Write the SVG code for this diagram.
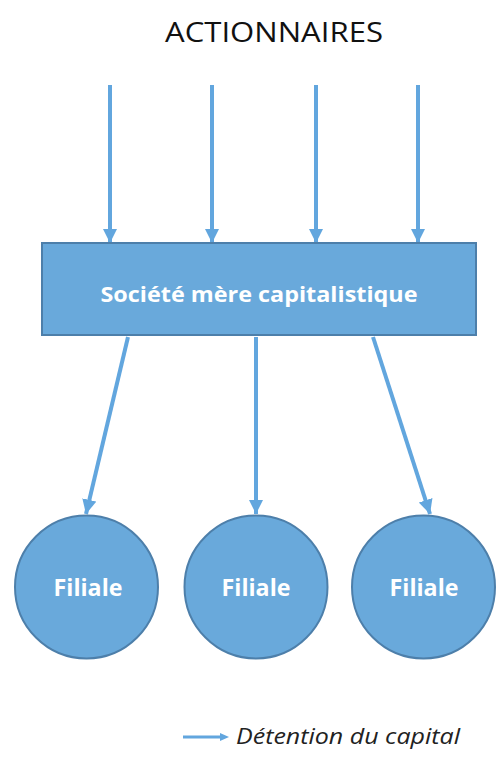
<svg xmlns="http://www.w3.org/2000/svg" width="500" height="758" viewBox="0 0 500 758">
<style>
.node{fill:#69a9db;stroke:#4d7faa;stroke-width:2}
.lbl{fill:#fff;font-family:"Open Sans","Liberation Sans",sans-serif;font-weight:bold;text-anchor:middle}
.conn{stroke:#62a6de;stroke-width:4;fill:none;marker-end:url(#ah)}
</style>
<defs>
<marker id="ah" viewBox="0 0 10 10" refX="10" refY="5" markerWidth="3.6" markerHeight="3.6" orient="auto" markerUnits="strokeWidth">
<path d="M0,0 L10,5 L0,10 z" fill="#62a6de"/>
</marker>
</defs>
<text x="274" y="42" font-family="'Open Sans','Liberation Sans',sans-serif" font-size="28" fill="#111" text-anchor="middle" textLength="218" lengthAdjust="spacingAndGlyphs">ACTIONNAIRES</text>
<g id="connectors">
<line class="conn" x1="110" y1="85" x2="110" y2="243"/>
<line class="conn" x1="212" y1="85" x2="212" y2="243"/>
<line class="conn" x1="316" y1="85" x2="316" y2="243"/>
<line class="conn" x1="418" y1="85" x2="418" y2="243"/>
<line class="conn" x1="128" y1="337" x2="86" y2="514"/>
<line class="conn" x1="256" y1="337" x2="256" y2="514"/>
<line class="conn" x1="373" y1="337" x2="430" y2="514"/>
</g>
<g id="mere">
<rect class="node" x="42" y="243" width="434" height="92"/>
<text class="lbl" x="259" y="302" font-size="22" textLength="317" lengthAdjust="spacingAndGlyphs">Société mère capitalistique</text>
</g>
<g id="filiale1">
<circle class="node" cx="86.5" cy="587" r="71.5"/>
<text class="lbl" x="88" y="596" font-size="23" textLength="69" lengthAdjust="spacingAndGlyphs">Filiale</text>
</g>
<g id="filiale2">
<circle class="node" cx="256" cy="587" r="71.5"/>
<text class="lbl" x="256" y="596" font-size="23" textLength="69" lengthAdjust="spacingAndGlyphs">Filiale</text>
</g>
<g id="filiale3">
<circle class="node" cx="423.5" cy="587" r="71.5"/>
<text class="lbl" x="424" y="596" font-size="23" textLength="69" lengthAdjust="spacingAndGlyphs">Filiale</text>
</g>
<g id="legend">
<line x1="183" y1="737" x2="222" y2="737" stroke="#62a6de" stroke-width="3"/>
<path d="M220,733 L229,737 L220,741 z" fill="#62a6de"/>
<text x="236" y="744" font-family="'Open Sans','Liberation Sans',sans-serif" font-style="italic" font-size="21" fill="#222" textLength="224" lengthAdjust="spacingAndGlyphs">Détention du capital</text>
</g>
</svg>
